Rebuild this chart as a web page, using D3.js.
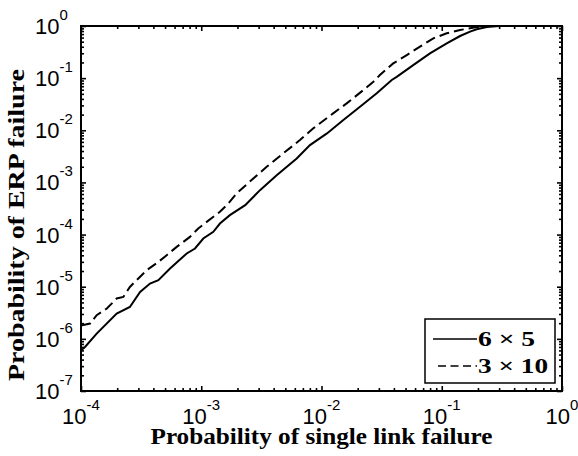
<!DOCTYPE html>
<html>
<head>
<meta charset="utf-8">
<script src="https://cdn.jsdelivr.net/npm/d3@7"></script>
<style>
body{margin:0;background:#fff;}
.tick line{stroke:#000;stroke-width:1.6;}
.domain{display:none;}
</style>
</head>
<body>
<script>
// 6 x 5 ring: probability of single link failure vs probability of ERP failure
var linkFail6x5 = [1.0e-4,1.08e-4,1.35e-4,1.98e-4,2.55e-4,3.10e-4,3.75e-4,4.40e-4,5.50e-4,7.57e-4,8.87e-4,
                   1.04e-3,1.26e-3,1.43e-3,1.73e-3,2.32e-3,3.08e-3,4.24e-3,6.22e-3,8.02e-3,
                   1.11e-2,1.52e-2,2.09e-2,2.88e-2,3.84e-2,4.22e-2,5.79e-2,7.98e-2,
                   0.110,0.142,0.172,0.195,0.237,0.3,0.5,1];
var erpFail6x5  = [6.0e-7,7.0e-7,1.26e-6,3.06e-6,4.09e-6,7.94e-6,1.15e-5,1.33e-5,2.23e-5,4.34e-5,5.41e-5,
                   8.41e-5,1.13e-4,1.63e-4,2.36e-4,3.66e-4,7.11e-4,1.38e-3,2.89e-3,5.20e-3,
                   8.71e-3,1.57e-2,2.82e-2,5.11e-2,9.20e-2,0.106,0.178,0.299,
                   0.466,0.643,0.778,0.865,0.955,1,1,1];
// 3 x 10 ring
var linkFail3x10 = [1.0e-4,1.19e-4,1.35e-4,1.64e-4,1.98e-4,2.25e-4,2.55e-4,3.00e-4,3.52e-4,4.40e-4,5.16e-4,6.25e-4,8.05e-4,9.44e-4,
                    1.11e-3,1.43e-3,1.68e-3,1.97e-3,2.71e-3,3.50e-3,4.81e-3,6.62e-3,8.55e-3,
                    1.25e-2,1.62e-2,2.23e-2,2.70e-2,3.06e-2,3.95e-2,5.12e-2,6.59e-2,8.51e-2,
                    0.110,0.142,0.172,0.20,0.25,0.5,1];
var erpFail3x10  = [1.8e-6,1.97e-6,2.84e-6,3.82e-6,5.94e-6,6.37e-6,9.91e-6,1.44e-5,2.07e-5,2.99e-5,4.03e-5,5.81e-5,9.03e-5,1.31e-4,
                    1.75e-4,2.73e-4,3.95e-4,6.15e-4,1.19e-3,1.99e-3,3.61e-3,6.49e-3,1.09e-2,
                    2.11e-2,3.28e-2,5.92e-2,8.53e-2,0.115,0.192,0.277,0.401,0.581,
                    0.724,0.838,0.904,0.966,1,1,1];
var seriesNames = ["6 \u00d7 5","3 \u00d7 10"];
var xExponents = [-4,-3,-2,-1,0];
var yExponents = [-7,-6,-5,-4,-3,-2,-1,0];

var W = 578, H = 456;
var margin = {left:81,right:16,top:26,bottom:65};
var pw = W - margin.left - margin.right, ph = H - margin.top - margin.bottom;

var x = d3.scaleLog().domain([1e-4,1]).range([0,pw]);
var y = d3.scaleLog().domain([1e-7,1]).range([ph,0]);

function majors(exps){ return exps.map(function(e){ return Math.pow(10,e); }); }
function minors(exps){
  var out = [];
  exps.slice(0,-1).forEach(function(e){
    for (var k=2;k<=9;k++) out.push(k*Math.pow(10,e));
  });
  return out;
}

var svg = d3.select("body").append("svg").attr("width",W).attr("height",H);
var g = svg.append("g").attr("transform","translate("+margin.left+","+margin.top+")");

// ticks (all pointing inward, box style)
function addAxis(gen, scale, vals, size, tx, ty){
  g.append("g").attr("transform","translate("+tx+","+ty+")")
    .call(gen(scale).tickValues(vals).tickSize(-size).tickSizeOuter(0).tickFormat(""));
}
addAxis(d3.axisBottom, x, majors(xExponents), 5, 0, ph);
addAxis(d3.axisBottom, x, minors(xExponents), 3, 0, ph);
addAxis(d3.axisTop, x, majors(xExponents), 5, 0, 0);
addAxis(d3.axisTop, x, minors(xExponents), 3, 0, 0);
addAxis(d3.axisLeft, y, majors(yExponents), 5, 0, 0);
addAxis(d3.axisLeft, y, minors(yExponents), 3, 0, 0);
addAxis(d3.axisRight, y, majors(yExponents), 5, pw, 0);
addAxis(d3.axisRight, y, minors(yExponents), 3, pw, 0);

// tick labels 10^n
var xl = g.append("g").selectAll("text").data(xExponents).enter().append("text")
  .attr("x", function(d){ return x(Math.pow(10,d)); })
  .attr("y", ph+33)
  .attr("text-anchor","middle")
  .style("font-family","'Liberation Sans',Arial,sans-serif").style("font-size","22px");
xl.append("tspan").text("10");
xl.append("tspan").attr("dy",-14).style("font-size","15px").text(function(d){ return d; });

var yl = g.append("g").selectAll("text").data(yExponents).enter().append("text")
  .attr("x", -46)
  .attr("y", function(d){ return y(Math.pow(10,d)) + 8; })
  .attr("text-anchor","start")
  .style("font-family","'Liberation Sans',Arial,sans-serif").style("font-size","22px");
yl.append("tspan").text("10");
yl.append("tspan").attr("dy",-14).style("font-size","15px").text(function(d){ return d; });

// curves
var line = d3.line()
  .x(function(d){ return x(d[0]); })
  .y(function(d){ return y(d[1]); });

g.append("path").attr("d", line(d3.zip(linkFail6x5, erpFail6x5)))
  .attr("fill","none").attr("stroke","#000").attr("stroke-width",2);
g.append("path").attr("d", line(d3.zip(linkFail3x10, erpFail3x10)))
  .attr("fill","none").attr("stroke","#000").attr("stroke-width",2)
  .attr("stroke-dasharray","10,5");

// box
g.append("rect").attr("width",pw).attr("height",ph)
  .attr("fill","none").attr("stroke","#000").attr("stroke-width",2);

// legend
var legendWidths = [57,70];
var lg = g.append("g").attr("transform","translate("+(pw-137)+","+(ph-72)+")");
lg.append("rect").attr("width",130).attr("height",64)
  .attr("fill","#fff").attr("stroke","#000").attr("stroke-width",1.5);
seriesNames.forEach(function(name,i){
  var yy = 20 + i*27;
  lg.append("line").attr("x1", i==1 ? 13 : 8).attr("x2",52).attr("y1",yy).attr("y2",yy)
    .attr("stroke","#000").attr("stroke-width",1.5)
    .attr("stroke-dasharray", i==1 ? "8,4.5" : null);
  lg.append("text").attr("x",53).attr("y",yy+7)
    .attr("textLength",legendWidths[i]).attr("lengthAdjust","spacingAndGlyphs")
    .style("font-family","'Liberation Serif','Times New Roman',serif")
    .style("font-weight","bold").style("font-size","21px").text(name);
});

// axis titles
svg.append("text")
  .attr("x", margin.left + pw/2).attr("y", H-12)
  .attr("text-anchor","middle")
  .attr("textLength",342).attr("lengthAdjust","spacingAndGlyphs")
  .style("font-family","'Liberation Serif','Times New Roman',serif")
  .style("font-weight","bold").style("font-size","23px")
  .text("Probability of single link failure");
svg.append("text")
  .attr("transform","translate(24,225) rotate(-90)")
  .attr("text-anchor","middle")
  .attr("textLength",312).attr("lengthAdjust","spacingAndGlyphs")
  .style("font-family","'Liberation Serif','Times New Roman',serif")
  .style("font-weight","bold").style("font-size","23px")
  .text("Probability of ERP failure");
</script>
</body>
</html>
